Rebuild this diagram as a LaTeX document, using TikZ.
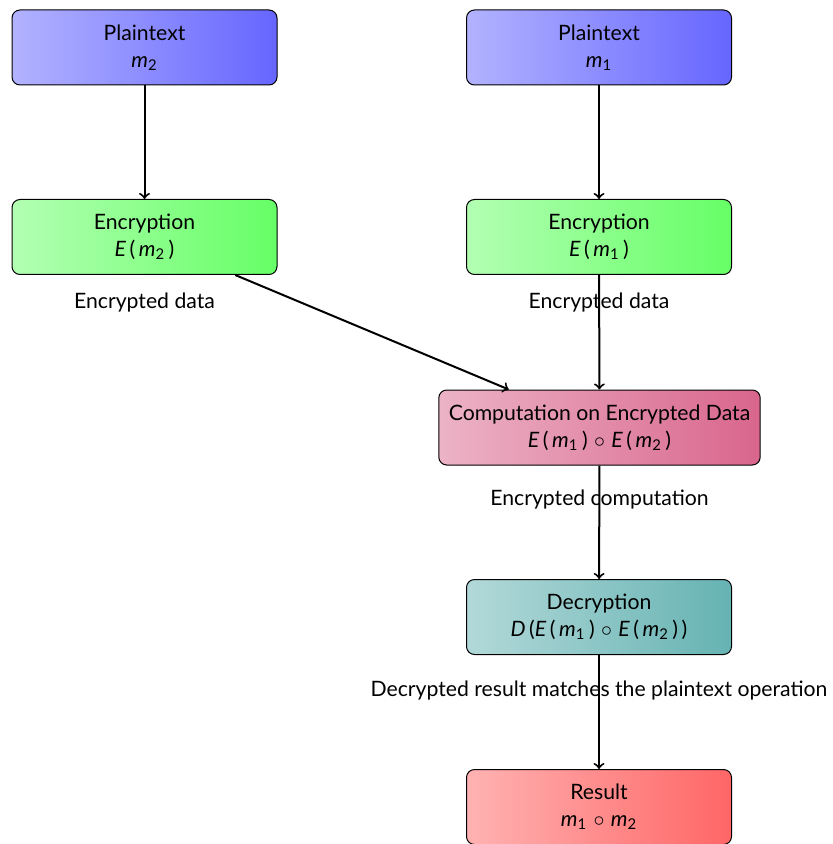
\documentclass[tikz,border=0pt]{standalone}
\usepackage{fontspec}
\setmainfont{Lato}
\usetikzlibrary{positioning}
\newcommand{\vm}[1]{\textit{m}\textsubscript{#1}}
\newcommand{\fn}[2]{\textit{#1}\,(\,#2\,)}
\newcommand{\op}{\hspace{0.3em}\ensuremath{\circ}\hspace{0.3em}}
\tikzset{
  stage/.style n args={2}{draw=black, rounded corners=4pt, line width=0.5pt,
    minimum width=132.5pt, minimum height=37.5pt, inner xsep=5pt,
    align=center, font=\fontsize{10.6}{13.4}\selectfont,
    left color=#1!30, right color=#1!60},
  flow/.style={->, line width=1pt},
  note/.style={font=\fontsize{10.6}{12.6}\selectfont, inner sep=0pt}
}
\begin{document}
\begin{tikzpicture}[x=1pt, y=1pt]
  \useasboundingbox (0,0) rectangle (416,-422);
  % plaintext inputs
  \node[stage={blue}{}] (p2) at (72.25,-23.75) {Plaintext\\\vm{2}};
  \node[stage={blue}{}] (p1) at (299.5,-23.75) {Plaintext\\\vm{1}};
  % encryption
  \node[stage={green}{}] (e2) at (72.25,-118.5) {Encryption\\\fn{E}{\vm{2}}};
  \node[stage={green}{}] (e1) at (299.5,-118.5) {Encryption\\\fn{E}{\vm{1}}};
  % homomorphic computation
  \node[stage={purple}{}] (c) at (299.75,-213.75)
    {Computation on Encrypted Data\\\fn{E}{\vm{1}}\op\fn{E}{\vm{2}}};
  % decryption and result
  \node[stage={teal}{}] (d) at (299.5,-308.5)
    {Decryption\\\textit{D}\,(\fn{E}{\vm{1}}\op\fn{E}{\vm{2}}\,)};
  \node[stage={red}{}] (r) at (299.5,-403.5) {Result\\\vm{1}\op\vm{2}};
  % connectors
  \draw[flow] (p2) -- (e2);
  \draw[flow] (p1) -- (e1);
  \draw[flow] (e2) -- (c);
  \draw[flow] (e1) -- (c);
  \draw[flow] (c) -- (d);
  \draw[flow] (d) -- (r);
  % annotations
  \node[note] (l2) at ([yshift=-13.8pt]e2.south) {Encrypted data};
  \node[note] (l1) at ([yshift=-13.8pt]e1.south) {Encrypted data};
  \node[note] (lc) at ([yshift=-16.8pt]c.south) {Encrypted computation};
  \node[note] (ld) at ([yshift=-17.8pt]d.south) {Decrypted result matches the plaintext operation};
\end{tikzpicture}
\end{document}
